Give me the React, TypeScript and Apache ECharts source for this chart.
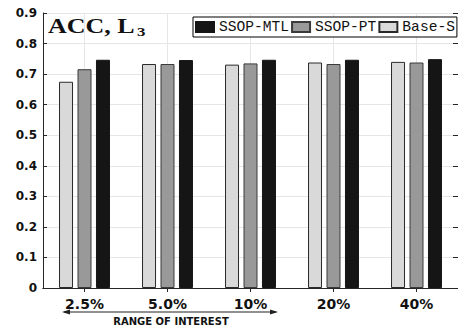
import React, { useEffect, useRef } from "react";
import * as echarts from "echarts";

const categories = ["2.5%", "5.0%", "10%", "20%", "40%"];
const baseS = [0.675, 0.733, 0.731, 0.738, 0.74];
const ssopPT = [0.716, 0.733, 0.735, 0.733, 0.738];
const ssopMTL = [0.747, 0.746, 0.747, 0.747, 0.749];
const yTickLabels = ["0", "0.1", "0.2", "0.3", "0.4", "0.5", "0.6", "0.7", "0.8", "0.9"];
const legendOrder = ["SSOP-MTL", "SSOP-PT", "Base-S"];

const AXIS = "#262626";
const GRID = "#e6e6e6";

export default function App() {
  const ref = useRef<HTMLDivElement>(null);
  useEffect(() => {
    if (!ref.current) return;
    const chart = echarts.init(ref.current, null, { renderer: "svg" });
    const barCommon = {
      type: "bar" as const,
      barWidth: 14,
      barGap: "32%",
      xAxisIndex: 0,
      yAxisIndex: 0,
    };
    chart.setOption({
      animation: false,
      backgroundColor: "#fff",
      legend: {
        data: legendOrder,
        left: 193,
        top: 17,
        width: 264,
        orient: "horizontal",
        itemWidth: 18,
        itemHeight: 10,
        itemGap: 2,
        padding: [2, 2, 2, 2],
        borderColor: "#000",
        borderWidth: 1,
        backgroundColor: "#fff",
        icon: "rect",
        textStyle: { fontFamily: "Liberation Mono", fontSize: 14.6, color: "#111", lineHeight: 16 },
      },
      grid: { left: 43, top: 13, width: 419, height: 275 },
      xAxis: [
        {
          type: "category",
          data: categories,
          position: "bottom",
          axisLine: { show: true, lineStyle: { color: AXIS, width: 1 } },
          axisTick: { show: true, inside: true, alignWithLabel: true, length: 4, lineStyle: { color: AXIS } },
          axisLabel: { fontFamily: "DejaVu Sans", fontWeight: "bold", fontSize: 14, color: "#111", margin: 9 },
          splitLine: { show: true, alignWithLabel: true, lineStyle: { color: GRID, width: 1 } },
        },
        {
          type: "category",
          data: categories,
          position: "top",
          axisLine: { show: true, lineStyle: { color: AXIS, width: 1 } },
          axisTick: { show: true, inside: true, alignWithLabel: true, length: 4, lineStyle: { color: AXIS } },
          axisLabel: { show: false },
          splitLine: { show: false },
        },
      ],
      yAxis: [
        {
          type: "value",
          min: 0,
          max: 0.9,
          interval: 0.1,
          position: "left",
          axisLine: { show: true, lineStyle: { color: AXIS, width: 1 } },
          axisTick: { show: true, inside: true, length: 4, lineStyle: { color: AXIS } },
          axisLabel: {
            fontFamily: "DejaVu Sans",
            fontWeight: "bold",
            fontSize: 12,
            color: "#111",
            margin: 6,
            formatter: (v: number) => yTickLabels[Math.round(v * 10)] ?? "",
          },
          splitLine: { show: true, lineStyle: { color: GRID, width: 1 } },
        },
        {
          type: "value",
          min: 0,
          max: 0.9,
          interval: 0.1,
          position: "right",
          axisLine: { show: true, lineStyle: { color: AXIS, width: 1 } },
          axisTick: { show: true, inside: true, length: 5, lineStyle: { color: AXIS } },
          axisLabel: { show: false },
          splitLine: { show: false },
        },
      ],
      series: [
        { ...barCommon, name: "Base-S", data: baseS, itemStyle: { color: "#d9d9d9", borderColor: "#2a2a2a", borderWidth: 1 } },
        { ...barCommon, name: "SSOP-PT", data: ssopPT, itemStyle: { color: "#999999", borderColor: "#3a3a3a", borderWidth: 1 } },
        { ...barCommon, name: "SSOP-MTL", data: ssopMTL, itemStyle: { color: "#151515", borderColor: "#151515", borderWidth: 1 } },
      ],
      graphic: [
        {
          type: "text",
          x: 48,
          y: 26,
          scaleX: 1.3,
          z: 100,
          style: { text: "ACC, L", fontFamily: "Liberation Serif", fontWeight: "bold", fontSize: 20, fill: "#111", align: "left", verticalAlign: "middle" },
        },
        {
          type: "text",
          x: 137,
          y: 32,
          scaleX: 1.3,
          z: 100,
          style: { text: "3", fontFamily: "Liberation Serif", fontWeight: "bold", fontSize: 13, fill: "#111", align: "left", verticalAlign: "middle" },
        },
        { type: "line", shape: { x1: 64, y1: 312, x2: 276, y2: 312 }, style: { stroke: "#222", lineWidth: 1 } },
        { type: "polygon", shape: { points: [[62, 312], [70, 309.5], [70, 314.5]] }, style: { fill: "#222" } },
        { type: "polygon", shape: { points: [[278, 312], [270, 309.5], [270, 314.5]] }, style: { fill: "#222" } },
        {
          type: "text",
          x: 171,
          y: 321.5,
          style: { text: "RANGE OF INTEREST", fontFamily: "DejaVu Sans", fontWeight: "bold", fontSize: 10, fill: "#111", align: "center", verticalAlign: "middle" },
        },
      ],
    });
    return () => chart.dispose();
  }, []);
  return <div ref={ref} style={{ position: "fixed", left: 0, top: 0, width: 458, height: 328 }} />;
}
